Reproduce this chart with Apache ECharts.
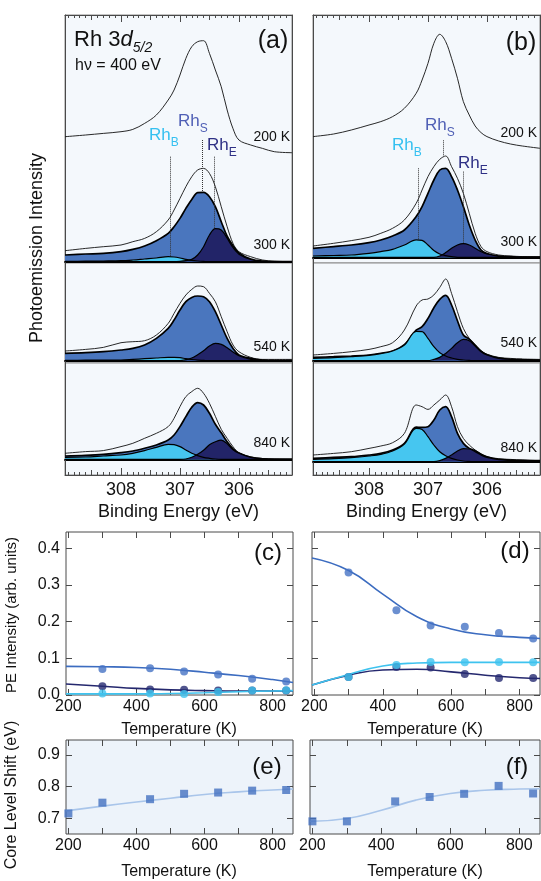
<!DOCTYPE html>
<html>
<head>
<meta charset="utf-8">
<script src="https://cdn.jsdelivr.net/npm/echarts@6/dist/echarts.min.js"></script>
<style>
  html, body { margin: 0; padding: 0; background: #fff; }
  #chart { width: 541px; height: 881px; }
</style>
</head>
<body>
<div id="chart"></div>
<script>
// binding energy grid shared by every spectrum (eV)
const energy = [308.95, 308.6, 308.3, 308.0, 307.8, 307.6, 307.4, 307.2, 307.1, 307.0, 306.9, 306.8,
  306.7, 306.6, 306.5, 306.4, 306.3, 306.2, 306.1, 306.0, 305.8, 305.6, 305.4, 305.1];

// panel (a) - intensity above each box baseline (arb. units)
const a200 = [125, 126.7, 128.3, 130, 132.3, 138.3, 146.7, 161.7, 171.7, 186.7, 203.3, 215, 220, 221, 208.3, 191.7, 175, 151.7, 133, 121.7, 116.7, 113.3, 110, 109];
const a300Raw = [11, 13.3, 15, 16.7, 20, 23.3, 30, 41.7, 51.7, 63.3, 75, 85, 91.7, 93.3, 88.3, 75, 55, 35, 18.3, 10, 5, 1.7, 0.5, 0];
const a300Fit = [6.7, 7.7, 8.3, 10, 12.3, 15.7, 21, 28.3, 35, 43.3, 53.3, 62.3, 69, 69.3, 65, 55, 40, 25.5, 16, 8.8, 2.6, 0.5, 0.1, 0];
const a300B = [0.3, 0.5, 0.7, 1, 1.7, 2.7, 3.7, 5, 4.7, 3.7, 2.3, 1.3, 0.7, 0.3, 0, 0, 0, 0, 0, 0, 0, 0, 0, 0];
const a300E = [0, 0, 0, 0, 0, 0, 0, 0, 0, 0.3, 1, 2.3, 6.7, 15, 26.7, 33, 31.7, 23.5, 14, 7.5, 2.2, 0.3, 0, 0];
const a540Raw = [9.7, 11.3, 13.3, 18, 19, 20, 25.7, 37.3, 47.3, 57.3, 65.7, 71.3, 74.7, 74, 67.3, 59, 44, 29, 15.7, 9, 3.3, 1.3, 1.3, 1.3];
const a540Fit = [7.3, 8, 9, 10.7, 12.3, 15.7, 22.3, 32.3, 40.7, 50.7, 59, 63.3, 64.7, 64, 59, 49, 35.7, 22.3, 12.3, 5.7, 2.3, 0.7, 0.3, 0.3];
const a540B = [0.3, 0.5, 0.6, 0.7, 1.3, 2, 2.7, 3.3, 3.3, 3, 2, 1.2, 0.6, 0.3, 0, 0, 0, 0, 0, 0, 0, 0, 0, 0];
const a540E = [0, 0, 0, 0, 0, 0, 0, 0, 0, 0, 1, 2.7, 6, 10, 14.7, 17.3, 16.3, 13, 8.7, 5, 1.3, 0.3, 0, 0];
const a840Raw = [6, 7.7, 8.7, 12.7, 16, 21, 26, 32.7, 41, 52.7, 62.7, 67.7, 71, 66, 56, 43, 30, 21, 12.6, 6.5, 2.5, 0.8, 0.3, 0];
const a840Fit = [3.3, 4, 5, 6.7, 8.3, 11, 14.3, 19.3, 24.3, 32.7, 42.7, 52, 56.7, 54.3, 46, 35, 26.5, 17.5, 10.5, 6.3, 2, 0.5, 0, 0];
const a840B = [2, 2.3, 3.3, 4.3, 6, 8.7, 12, 15, 14.7, 12.7, 9.3, 6, 3.7, 2, 1, 0.3, 0, 0, 0, 0, 0, 0, 0, 0];
const a840E = [0, 0, 0, 0, 0, 0, 0, 0, 0, 0, 0.3, 2, 5, 9, 14.5, 17.5, 19.2, 15.5, 9.5, 6, 1.8, 0.4, 0, 0];

// panel (b)
const b200 = [120.7, 123.3, 127.3, 132.3, 135.7, 140.7, 149, 164, 177.3, 194, 214, 223, 215.7, 199, 179, 155.7, 142.3, 131.3, 124.7, 120.7, 116.3, 113.3, 111.3, 109];
const b300Raw = [11.3, 14, 16.7, 20, 24, 29, 37.3, 54, 67.3, 80.7, 90.7, 98, 101.3, 90.7, 79, 64, 44, 24, 10.7, 5.7, 2.3, 1.3, 0.7, 0.3];
const b300Fit = [9, 10.7, 12.3, 14.7, 17.3, 21.3, 27.3, 40.7, 50.7, 64, 77.3, 87.3, 89, 80.7, 67.3, 50.7, 32.3, 17.3, 7.3, 3.8, 1.3, 0.7, 0.3, 0.3];
const b300B = [1.3, 1.8, 2.3, 4, 5.7, 8, 12.3, 17.5, 17, 12.3, 6.7, 3.3, 1.7, 0.7, 0, 0, 0, 0, 0, 0, 0, 0, 0, 0];
const b300E = [0, 0, 0, 0, 0, 0, 0, 0, 0, 0, 0, 1.3, 4.7, 9, 12.3, 13.7, 12.3, 9, 5.7, 3.3, 1, 0.3, 0, 0];
const b540Raw = [5.7, 7.3, 9, 11.3, 14, 18, 30.7, 54.7, 60.7, 61.7, 65.7, 73.3, 81.7, 67.3, 49, 32.3, 22.3, 16, 10, 6.5, 3.3, 2.3, 1.7, 1.3];
const b540Fit = [3.3, 4, 4.7, 5.7, 7.3, 9.7, 16, 30.5, 34, 42.3, 53, 61.3, 65.3, 55.7, 40, 25.7, 21.5, 15.5, 9.5, 6, 2.5, 1.3, 1, 0.7];
const b540B = [2.3, 3, 4, 5.3, 7, 9.7, 15.7, 29.3, 29, 22.3, 14, 8, 4.7, 2.7, 1.3, 0.7, 0.3, 0, 0, 0, 0, 0, 0, 0];
const b540E = [0, 0, 0, 0, 0, 0, 0, 0, 0, 0, 1.3, 3.3, 7.3, 12.3, 18, 21.3, 20, 14.7, 9, 5.7, 2.3, 1.3, 0.7, 0.3];
const b840Raw = [6.7, 8.3, 10, 13.3, 15.7, 19, 28.3, 56.7, 55, 52.3, 56.7, 61.7, 66.7, 55, 35, 23.3, 16.7, 11.7, 7.7, 5, 3, 2.3, 1.7, 1];
const b840Fit = [3.3, 4.3, 5, 6.7, 8.3, 11.7, 18.3, 34.5, 34.3, 35, 41.7, 51.7, 55, 45, 28.3, 18.3, 13.3, 11, 7.5, 5, 2.3, 1.7, 1.3, 1];
const b840B = [2.3, 3, 4, 5.7, 7.3, 10.7, 17.7, 33.3, 32.3, 25, 16.7, 10, 6, 3.3, 1.7, 0.7, 0.3, 0, 0, 0, 0, 0, 0, 0];
const b840E = [0, 0, 0, 0, 0, 0, 0, 0, 0, 0, 0, 1, 3.3, 6.7, 10.7, 13, 12.7, 10, 6.7, 4.3, 2, 1.3, 1, 0.7];

// peak markers (Rh_B, Rh_S, Rh_E)
const aPeakE = [307.17, 306.63, 306.42];
const aPeakTop = [105, 121.7, 105];
const aPeakBase = [0, 70, 0];
const bPeakE = [307.17, 306.74, 306.4];
const bPeakTop = [89, 117, 85.7];
const bPeakBase = [17.5, 101, 13.7];

// binding energy ticks
const beLabels = [306, 307, 308];
const beHalfTicks = [305.5, 306.5, 307.5, 308.5];

// panels (c)-(f)
const tempPts = [300, 440, 540, 640, 740, 840];
const fitT = [193, 300, 400, 500, 600, 700, 800, 860];
const cRhS = [0.071, 0.073, 0.064, 0.056, 0.044, 0.037];
const cRhE = [0.024, 0.015, 0.014, 0.012, 0.012, 0.012];
const cRhB = [0.004, 0.004, 0.003, 0.008, 0.012, 0.013];
const cFitS = [0.078, 0.077, 0.075, 0.070, 0.062, 0.053, 0.042, 0.034];
const cFitE = [0.030, 0.024, 0.018, 0.014, 0.012, 0.011, 0.011, 0.011];
const cFitB = [0.003, 0.003, 0.003, 0.004, 0.006, 0.009, 0.011, 0.012];
const dRhS = [0.334, 0.231, 0.189, 0.186, 0.169, 0.154];
const dRhB = [0.049, 0.082, 0.090, 0.089, 0.090, 0.089];
const dRhE = [0.049, 0.076, 0.075, 0.057, 0.046, 0.046];
const dFitS = [0.373, 0.339, 0.275, 0.213, 0.180, 0.164, 0.157, 0.154];
const dFitB = [0.027, 0.056, 0.079, 0.087, 0.089, 0.089, 0.089, 0.089];
const dFitE = [0.027, 0.054, 0.068, 0.070, 0.063, 0.054, 0.047, 0.045];
const shiftT = [200, 300, 440, 540, 640, 740, 840];
const eShift = [0.715, 0.749, 0.760, 0.777, 0.781, 0.787, 0.789];
const eFit = [0.723, 0.738, 0.751, 0.763, 0.775, 0.783, 0.789, 0.792];
const fShift = [0.690, 0.690, 0.753, 0.767, 0.777, 0.802, 0.778];
const fFit = [0.690, 0.699, 0.725, 0.757, 0.778, 0.788, 0.792, 0.793];
const tempTicks = [200, 300, 400, 500, 600, 700, 800];
const tempLabels = [200, 400, 600, 800];
const peTicks = [0, 0.1, 0.2, 0.3, 0.4];
const clsTicks = [0.7, 0.8, 0.9];

const FONT = "'Liberation Sans', Arial, Helvetica, sans-serif";
const FRAME = '#4a4a4a';
const SPEC_BG = '#f4f8fc';
const MID = '#4a76be';
const LIGHT = '#46c6f0';
const DARK = '#222468';
const BE_MIN = 305.1, BE_MAX = 308.95;
const T_MIN = 193, T_MAX = 860;

const beMinorTicks = [];
for (let v = 3052; v <= 3089; v++) beMinorTicks.push(v / 10);

const grids = [], xAxes = [], yAxes = [], series = [], graphics = [];
const pairs = (xs, ys) => xs.map((x, i) => [x, ys[i]]);

// one stacked box of spectra inside panel (a) or (b)
function spectrumBox(left, top, height, yMin, yMax, box) {
  const gridIndex = grids.length;
  grids.push({ left, top, width: 227, height, show: true, backgroundColor: SPEC_BG, borderColor: '#8a8a8a', borderWidth: 1 });
  const xAxisIndex = xAxes.length;
  xAxes.push({
    gridIndex, type: 'value', min: BE_MIN, max: BE_MAX, inverse: true,
    axisLine: { show: true, onZero: true, lineStyle: { color: '#000', width: 1.8 } },
    axisTick: { show: false }, axisLabel: { show: false }, splitLine: { show: false }
  });
  const yAxisIndex = yAxes.length;
  yAxes.push({ gridIndex, type: 'value', min: yMin, max: yMax, show: false, splitLine: { show: false } });
  const common = { type: 'line', xAxisIndex, yAxisIndex, smooth: 0.35, symbol: 'none', silent: true };
  box.raw.forEach(r => series.push({ ...common, data: pairs(energy, r), z: 3, lineStyle: { color: '#111', width: 0.9 } }));
  series.push({ ...common, data: pairs(energy, box.fit), z: 4, lineStyle: { color: '#000', width: 1.7 }, areaStyle: { color: MID, opacity: 1 } });
  series.push({ ...common, data: pairs(energy, box.b), z: 5, lineStyle: { color: '#000', width: 1.2 }, areaStyle: { color: LIGHT, opacity: 1 } });
  const eSeries = { ...common, data: pairs(energy, box.e), z: 5, lineStyle: { color: '#000', width: 1.2 }, areaStyle: { color: DARK, opacity: 1 } };
  if (box.peaks) {
    eSeries.markLine = {
      silent: true, symbol: 'none', label: { show: false }, animation: false,
      lineStyle: { type: 'dotted', color: '#333', width: 1 },
      data: box.peaks.pos.map((e, i) => [{ coord: [e, box.peaks.top[i]] }, { coord: [e, box.peaks.base[i]] }])
    };
  }
  series.push(eSeries);
}

// outer frame of panel (a)/(b) carrying the energy ticks
function beFrame(left) {
  const gridIndex = grids.length;
  grids.push({ left, top: 15, width: 227, height: 460, show: false });
  ['left', 'right'].forEach(position => yAxes.push({
    gridIndex, type: 'value', position, min: 0, max: 1, z: 3,
    axisLine: { show: true, onZero: false, lineStyle: { color: FRAME, width: 1 } },
    axisTick: { show: false }, axisLabel: { show: false }, splitLine: { show: false }
  }));
  const sets = [[beLabels, 7], [beHalfTicks, 5], [beMinorTicks, 3]];
  ['bottom', 'top'].forEach(position => sets.forEach(([vals, len], k) => xAxes.push({
    gridIndex, type: 'value', position, min: BE_MIN, max: BE_MAX, inverse: true, z: 3,
    axisLine: { show: k === 0, onZero: false, lineStyle: { color: FRAME, width: 1 } },
    axisTick: { show: true, inside: true, length: len, customValues: vals, lineStyle: { color: FRAME, width: 1 } },
    axisLabel: { show: k === 0 && position === 'bottom', customValues: beLabels, margin: 6, fontSize: 18, color: '#111', fontFamily: FONT },
    splitLine: { show: false }
  })));
}

function tempPanel(left, top, width, height, yMin, yMax, yTicks, yLabels, bg) {
  const gridIndex = grids.length;
  grids.push({ left, top, width, height, show: true, backgroundColor: bg, borderColor: FRAME, borderWidth: 1 });
  const xi = xAxes.length;
  ['bottom', 'top'].forEach(position => xAxes.push({
    gridIndex, type: 'value', position, min: T_MIN, max: T_MAX, z: 3,
    axisLine: { show: false, onZero: false },
    axisTick: { inside: true, length: 6, customValues: tempTicks, lineStyle: { color: FRAME } },
    axisLabel: { show: position === 'bottom', customValues: tempLabels, fontSize: 16, margin: 4, color: '#111', fontFamily: FONT },
    splitLine: { show: false }
  }));
  const yi = yAxes.length;
  ['left', 'right'].forEach(position => yAxes.push({
    gridIndex, type: 'value', position, min: yMin, max: yMax, z: 3,
    axisLine: { show: false, onZero: false },
    axisTick: { inside: true, length: 6, customValues: yTicks, lineStyle: { color: FRAME } },
    axisLabel: { show: yLabels && position === 'left', customValues: yTicks, formatter: v => v.toFixed(1), fontSize: 16, margin: 6, color: '#111', fontFamily: FONT },
    splitLine: { show: false }
  }));
  return { xi, yi };
}

function fitLine(p, xs, ys, color, width) {
  series.push({ type: 'line', xAxisIndex: p.xi, yAxisIndex: p.yi, data: pairs(xs, ys), smooth: 0.5, symbol: 'none', silent: true, z: 3, lineStyle: { color, width } });
}
function dots(p, xs, ys, color, symbol, size) {
  series.push({ type: 'scatter', xAxisIndex: p.xi, yAxisIndex: p.yi, data: pairs(xs, ys), symbol, symbolSize: size, silent: true, z: 4, itemStyle: { color } });
}

function text(x, y, str, size, opts) {
  graphics.push({
    type: 'text', x, y, silent: true, rotation: (opts && opts.rotation) || 0,
    style: Object.assign({ text: str, fontSize: size, fontFamily: FONT, fill: '#111', align: 'center', verticalAlign: 'middle' }, opts && opts.style)
  });
}
function rhLabel(x, y, sub, color) {
  graphics.push({
    type: 'text', x, y, silent: true,
    style: {
      text: '{m|Rh}{s|' + sub + '}', align: 'left', verticalAlign: 'middle',
      rich: {
        m: { fontSize: 17, fontFamily: FONT, fill: color, lineHeight: 20, verticalAlign: 'top' },
        s: { fontSize: 12, fontFamily: FONT, fill: color, lineHeight: 14, padding: [10, 0, 0, 0], verticalAlign: 'top' }
      }
    }
  });
}

// panel (a)
spectrumBox(65, 15, 248, -1.3, 246.7, { raw: [a200, a300Raw], fit: a300Fit, b: a300B, e: a300E, peaks: { pos: aPeakE, top: aPeakTop, base: aPeakBase } });
spectrumBox(65, 263, 100, -2.3, 97.7, { raw: [a540Raw], fit: a540Fit, b: a540B, e: a540E });
spectrumBox(65, 363, 112, -15.7, 96.3, { raw: [a840Raw], fit: a840Fit, b: a840B, e: a840E });
beFrame(65);
// panel (b)
spectrumBox(313, 15, 248, -5.7, 242.3, { raw: [b200, b300Raw], fit: b300Fit, b: b300B, e: b300E, peaks: { pos: bPeakE, top: bPeakTop, base: bPeakBase } });
spectrumBox(313, 263, 100, -2.3, 97.7, { raw: [b540Raw], fit: b540Fit, b: b540B, e: b540E });
spectrumBox(313, 363, 112, -13.3, 98.7, { raw: [b840Raw], fit: b840Fit, b: b840B, e: b840E });
beFrame(313);

// panels (c) and (d): PE intensity
const pc = tempPanel(66, 532, 227, 163, 0, 0.444, peTicks, true, '#ffffff');
fitLine(pc, fitT, cFitS, '#3c6cc0', 1.6);
fitLine(pc, fitT, cFitE, '#25286e', 1.6);
fitLine(pc, fitT, cFitB, '#3ec3ef', 1.6);
dots(pc, tempPts, cRhS, '#4673c4', 'circle', 8);
dots(pc, tempPts, cRhE, '#262a72', 'circle', 8);
dots(pc, tempPts, cRhB, '#3ec3ef', 'circle', 8);

const pd = tempPanel(312, 532, 228, 163, 0, 0.444, peTicks, false, '#ffffff');
fitLine(pd, fitT, dFitS, '#3c6cc0', 1.6);
fitLine(pd, fitT, dFitE, '#25286e', 1.6);
fitLine(pd, fitT, dFitB, '#3ec3ef', 1.6);
dots(pd, tempPts, dRhS, '#4673c4', 'circle', 8);
dots(pd, tempPts, dRhE, '#262a72', 'circle', 8);
dots(pd, tempPts, dRhB, '#3ec3ef', 'circle', 8);

// panels (e) and (f): core level shift
const pe = tempPanel(66, 740, 227, 94, 0.65, 0.947, clsTicks, true, '#edf3fa');
fitLine(pe, fitT, eFit, '#a9c5ea', 1.6);
dots(pe, shiftT, eShift, '#4471c0', 'rect', 8);
const pf = tempPanel(310, 740, 230, 94, 0.65, 0.947, clsTicks, false, '#edf3fa');
fitLine(pf, fitT, fFit, '#a9c5ea', 1.6);
dots(pf, shiftT, fShift, '#4471c0', 'rect', 8);

// texts
graphics.push({
  type: 'text', x: 74, y: 29, silent: true,
  style: {
    text: '{m|Rh 3}{i|d}{s|5/2}', align: 'left', verticalAlign: 'top',
    rich: {
      m: { fontSize: 22, fontFamily: FONT, fill: '#111', lineHeight: 24, verticalAlign: 'top' },
      i: { fontSize: 22, fontFamily: FONT, fontStyle: 'italic', fill: '#111', lineHeight: 24, verticalAlign: 'top' },
      s: { fontSize: 14, fontFamily: FONT, fontStyle: 'italic', fill: '#111', lineHeight: 16, padding: [12, 0, 0, 0], verticalAlign: 'top' }
    }
  }
});
text(75, 66, 'h\u03bd = 400 eV', 16, { style: { align: 'left' } });
text(273, 41, '(a)', 25);
text(521, 43, '(b)', 25);
text(268, 553, '(c)', 24);
text(515, 551, '(d)', 24);
text(267, 767, '(e)', 24);
text(517, 767, '(f)', 24);

[['200 K', 137, 133], ['300 K', 245, 242], ['540 K', 347, 343], ['840 K', 443, 448]].forEach(([s, ya, yb]) => {
  text(290, ya, s, 14, { style: { align: 'right' } });
  text(537, yb, s, 14, { style: { align: 'right' } });
});

rhLabel(149, 137, 'B', '#35c0f0');
rhLabel(178, 123, 'S', '#4f5fb5');
rhLabel(207, 147, 'E', '#2e3085');
rhLabel(392, 147, 'B', '#35c0f0');
rhLabel(425, 127, 'S', '#4f5fb5');
rhLabel(458, 165, 'E', '#2e3085');

text(178.5, 512, 'Binding Energy (eV)', 18);
text(426.5, 512, 'Binding Energy (eV)', 18);
text(179, 730, 'Temperature (K)', 16);
text(425, 730, 'Temperature (K)', 16);
text(179, 872, 'Temperature (K)', 16);
text(425, 872, 'Temperature (K)', 16);
text(37, 248, 'Photoemission Intensity', 18, { rotation: Math.PI / 2 });
text(12, 615, 'PE Intensity (arb. units)', 15, { rotation: Math.PI / 2 });
text(12, 795, 'Core Level Shift (eV)', 16, { rotation: Math.PI / 2 });

const chart = echarts.init(document.getElementById('chart'), null, { renderer: 'canvas' });
chart.setOption({
  animation: false,
  backgroundColor: '#ffffff',
  textStyle: { fontFamily: FONT },
  grid: grids,
  xAxis: xAxes,
  yAxis: yAxes,
  series: series,
  graphic: { elements: graphics }
});
</script>
</body>
</html>
